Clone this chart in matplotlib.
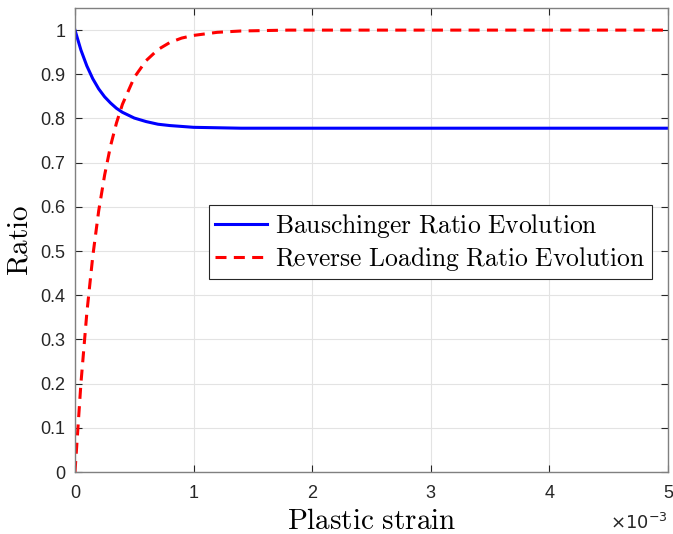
import matplotlib
matplotlib.use('Agg')
import matplotlib.pyplot as plt
import numpy as np
from matplotlib.ticker import FuncFormatter

plt.rcParams['mathtext.fontset'] = 'cm'
plt.rcParams['font.family'] = ['Liberation Sans', 'DejaVu Sans']

# plastic strain (x 1e-3)
strain = [0, 0.05, 0.1, 0.15, 0.2, 0.25, 0.3, 0.35, 0.4, 0.5, 0.6, 0.7, 0.8, 0.9, 1.0,
          1.2, 1.4, 1.6, 1.8, 2.0, 2.5, 3.0, 3.5, 4.0, 4.5, 5.0]
bauschinger = [1.0, 0.955, 0.919, 0.890, 0.867, 0.849, 0.835, 0.823, 0.814, 0.801, 0.793,
               0.787, 0.784, 0.782, 0.780, 0.779, 0.778, 0.778, 0.778, 0.778, 0.778, 0.778,
               0.778, 0.778, 0.778, 0.778]
reverse = [0.0, 0.200, 0.360, 0.488, 0.591, 0.672, 0.738, 0.790, 0.832, 0.893, 0.931,
           0.956, 0.972, 0.982, 0.988, 0.995, 0.998, 0.999, 1.0, 1.0, 1.0, 1.0, 1.0, 1.0,
           1.0, 1.0]

x = np.array(strain) * 1e-3

fig = plt.figure(figsize=(6.73, 5.34), dpi=100)
ax = fig.add_axes([0.1114, 0.1161, 0.8812, 0.8689])

ax.plot(x, bauschinger, color='#0000ff', lw=2.2, label=r'$\mathrm{Bauschinger\ Ratio\ Evolution}$')
ax.plot(x, reverse, color='#ff0000', lw=2.2, dashes=(3.6, 2.4),
        label=r'$\mathrm{Reverse\ Loading\ Ratio\ Evolution}$')

ax.set_xlim(0, 5e-3)
ax.set_ylim(0, 1.05)
ax.set_xticks(np.arange(0, 5.01e-3, 1e-3))
ax.set_yticks(np.arange(0, 1.01, 0.1))
ax.set_yticklabels(['0', '0.1', '0.2', '0.3', '0.4', '0.5', '0.6', '0.7', '0.8', '0.9', '1'])
ax.xaxis.set_major_formatter(FuncFormatter(lambda v, p: '%g' % round(v * 1e3, 6)))
ax.text(1.0, -0.11, r'$\times10^{-3}$', transform=ax.transAxes, ha='right', va='center',
        fontsize=13, color='#262626', math_fontfamily='dejavusans')

ax.grid(True, color='#e3e3e3', lw=0.8)
ax.set_axisbelow(True)
ax.tick_params(direction='in', top=True, right=True, labelsize=13, colors='#262626',
               length=5, width=0.8)
ax.tick_params(axis='x', pad=9)
ax.tick_params(axis='y', pad=7)
for s in ax.spines.values():
    s.set_color('#808080')
    s.set_linewidth(1.0)

ax.set_xlabel(r'$\mathrm{Plastic\ strain}$', fontsize=21, labelpad=4)
ax.set_ylabel(r'$\mathrm{Ratio}$', fontsize=21, labelpad=5)

leg = ax.legend(loc='upper right', bbox_to_anchor=(0.973, 0.575), fontsize=18.4,
                fancybox=False, edgecolor='#262626', framealpha=1, borderpad=0.25,
                handlelength=2.0, handletextpad=0.35, labelspacing=0.2, borderaxespad=0)
leg.get_frame().set_linewidth(0.8)

fig.savefig('out.png', dpi=100)
